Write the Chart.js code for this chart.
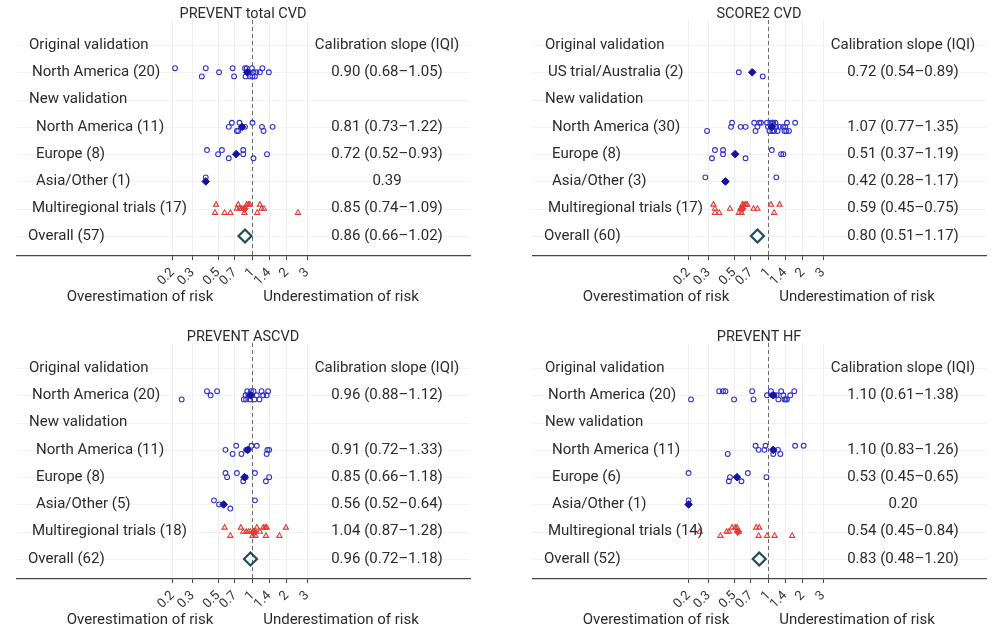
<!DOCTYPE html>
<html>
<head>
<meta charset="utf-8">
<script src="https://cdn.jsdelivr.net/npm/chart.js@4.4.1/dist/chart.umd.min.js"></script>
<style>
    html, body { margin: 0; padding: 0; background: #fff; }
    body { width: 1000px; height: 638px; position: relative; overflow: hidden; }
    .panel { position: absolute; width: 484px; height: 315px; }
</style>
</head>
<body>
<div class="panel" style="left: 0; top: 0;"><canvas id="p-cvd"></canvas></div>
<div class="panel" style="left: 516px; top: 0;"><canvas id="p-score2"></canvas></div>
<div class="panel" style="left: 0; top: 323px;"><canvas id="p-ascvd"></canvas></div>
<div class="panel" style="left: 516px; top: 323px;"><canvas id="p-hf"></canvas></div>
<script>
// x axis (log) ticks
const tickVals = [0.2, 0.3, 0.5, 0.7, 1, 1.4, 2, 3];
const tickLabels = ['0.2', '0.3', '0.5', '0.7', '1', '1.4', '2', '3'];

// ---- PREVENT total CVD ----
const cvdLabels = ['Original validation', 'North America (20)', 'New validation', 'North America (11)', 'Europe (8)', 'Asia/Other (1)', 'Multiregional trials (17)', 'Overall (57)'];
const cvdSlopes = ['Calibration slope (IQI)', '0.90 (0.68\u20131.05)', '', '0.81 (0.73\u20131.22)', '0.72 (0.52\u20130.93)', '0.39', '0.85 (0.74\u20131.09)', '0.86 (0.66\u20131.02)'];
const cvdNA20 = [0.21, 0.36, 0.39, 0.51, 0.67, 0.69, 0.86, 0.87, 0.89, 0.90, 0.92, 0.95, 0.99, 1.00, 1.02, 1.05, 1.08, 1.16, 1.22, 1.39];
const cvdNA20Jit = [-1, 1, -1, 0, -1, 1, -1, 1, -1, 0, 0, 1, -1, 1, 0, 1, 0, 0, -1, 0];
const cvdNA11 = [0.62, 0.66, 0.73, 0.75, 0.77, 0.81, 0.86, 1.00, 1.21, 1.25, 1.50];
const cvdNA11Jit = [0, -1, 1, 1, -1, 0, 0, -1, 0, 1, 0];
const cvdEur = [0.40, 0.50, 0.54, 0.62, 0.83, 0.83, 1.02, 1.34];
const cvdEurJit = [-1, 0, -1, 1, -1, 0, 1, 0];
const cvdAsia = [0.39];
const cvdAsiaJit = [-1];
const cvdMulti = [0.47, 0.48, 0.57, 0.64, 0.73, 0.75, 0.77, 0.80, 0.85, 0.89, 0.92, 0.95, 1.10, 1.16, 1.20, 1.26, 2.50];
const cvdMultiJit = [1, -1, 1, 1, 0, -1, 0, 0, 1, -1, -1, -1, 1, -1, 0, 0, 1];
const cvdMedians = [0.90, 0.81, 0.72, 0.39, 0.85];
const cvdOverall = 0.86;

// ---- SCORE2 CVD ----
const s2Labels = ['Original validation', 'US trial/Australia (2)', 'New validation', 'North America (30)', 'Europe (8)', 'Asia/Other (3)', 'Multiregional trials (17)', 'Overall (60)'];
const s2Slopes = ['Calibration slope (IQI)', '0.72 (0.54\u20130.89)', '', '1.07 (0.77\u20131.35)', '0.51 (0.37\u20131.19)', '0.42 (0.28\u20131.17)', '0.59 (0.45\u20130.75)', '0.80 (0.51\u20131.17)'];
const s2US = [0.55, 0.89];
const s2USJit = [0, 1];
const s2NA30 = [0.29, 0.47, 0.48, 0.57, 0.63, 0.75, 0.77, 0.80, 0.83, 0.86, 0.97, 0.99, 1.02, 1.04, 1.06, 1.08, 1.08, 1.10, 1.12, 1.15, 1.17, 1.20, 1.25, 1.34, 1.38, 1.40, 1.43, 1.45, 1.51, 1.71];
const s2NA30Jit = [1, 0, -1, 0, 0, -1, 1, 0, -1, -1, -1, 0, 1, -1, 0, -1, 1, -1, 1, -1, 0, 1, 0, 0, 1, 0, 1, -1, 1, -1];
const s2Eur = [0.32, 0.34, 0.40, 0.40, 0.63, 1.07, 1.29, 1.35];
const s2EurJit = [1, -1, -1, 0, 1, -1, 0, 0];
const s2Asia = [0.28, 0.42, 1.17];
const s2AsiaJit = [-1, 0, -1];
const s2Multi = [0.33, 0.34, 0.34, 0.37, 0.46, 0.55, 0.57, 0.58, 0.59, 0.61, 0.63, 0.65, 0.74, 0.80, 1.05, 1.12, 1.25];
const s2MultiJit = [-1, 0, 1, 1, 0, 1, 0, 1, -1, -1, -1, -1, 0, 0, -1, 1, -1];
const s2Medians = [0.72, 1.07, 0.51, 0.42, 0.59];
const s2Overall = 0.80;

// ---- PREVENT ASCVD ----
const ascLabels = ['Original validation', 'North America (20)', 'New validation', 'North America (11)', 'Europe (8)', 'Asia/Other (5)', 'Multiregional trials (18)', 'Overall (62)'];
const ascSlopes = ['Calibration slope (IQI)', '0.96 (0.88\u20131.12)', '', '0.91 (0.72\u20131.33)', '0.85 (0.66\u20131.18)', '0.56 (0.52\u20130.64)', '1.04 (0.87\u20131.28)', '0.96 (0.72\u20131.18)'];
const ascNA20 = [0.24, 0.40, 0.43, 0.49, 0.84, 0.87, 0.88, 0.90, 0.92, 0.95, 0.97, 0.99, 1.02, 1.04, 1.09, 1.15, 1.20, 1.24, 1.33, 1.37];
const ascNA20Jit = [1, -1, 0, -1, 1, 0, 1, -1, 0, 1, -1, 0, -1, 1, 0, 1, -1, 0, 0, -1];
const ascNA11 = [0.58, 0.67, 0.72, 0.80, 0.88, 0.91, 0.98, 1.09, 1.33, 1.35, 1.40];
const ascNA11Jit = [0, 1, -1, 1, 0, 0, -1, -1, 1, 0, 0];
const ascEur = [0.58, 0.60, 0.73, 0.83, 0.87, 1.05, 1.31, 1.40];
const ascEurJit = [-1, 0, -1, 1, 0, -1, 1, 0];
const ascAsia = [0.46, 0.51, 0.56, 0.64, 1.05];
const ascAsiaJit = [-1, 0, 0, 1, -1];
const ascMulti = [0.57, 0.64, 0.79, 0.83, 0.88, 0.92, 0.96, 1.00, 1.02, 1.06, 1.09, 1.16, 1.24, 1.29, 1.31, 1.33, 1.72, 1.96];
const ascMultiJit = [-1, 1, -1, 0, 0, 0, 0, 1, 0, 1, -1, 0, -1, -1, 1, -1, 1, -1];
const ascMedians = [0.96, 0.91, 0.85, 0.56, 1.04];
const ascOverall = 0.96;

// ---- PREVENT HF ----
const hfLabels = ['Original validation', 'North America (20)', 'New validation', 'North America (11)', 'Europe (6)', 'Asia/Other (1)', 'Multiregional trials (14)', 'Overall (52)'];
const hfSlopes = ['Calibration slope (IQI)', '1.10 (0.61\u20131.38)', '', '1.10 (0.83\u20131.26)', '0.53 (0.45\u20130.65)', '0.20', '0.54 (0.45\u20130.84)', '0.83 (0.48\u20131.20)'];
const hfNA20 = [0.21, 0.37, 0.40, 0.42, 0.50, 0.72, 0.74, 0.97, 1.05, 1.08, 1.12, 1.18, 1.22, 1.29, 1.35, 1.38, 1.41, 1.45, 1.55, 1.68];
const hfNA20Jit = [1, -1, -1, -1, 1, -1, 1, 0, -1, 0, 0, 0, 1, -1, 0, 1, 1, 1, 0, -1];
const hfNA11 = [0.44, 0.77, 0.82, 0.92, 0.94, 1.10, 1.10, 1.21, 1.27, 1.71, 2.03];
const hfNA11Jit = [1, -1, 0, 0, -1, 1, 0, 0, 1, -1, -1];
const hfEur = [0.20, 0.45, 0.46, 0.58, 0.66, 0.96];
const hfEurJit = [-1, 1, 0, 1, -1, 0];
const hfAsia = [0.20];
const hfAsiaJit = [-1];
const hfMulti = [0.25, 0.38, 0.43, 0.45, 0.48, 0.51, 0.53, 0.55, 0.78, 0.82, 0.83, 0.97, 1.13, 1.61];
const hfMultiJit = [0, 1, 0, 0, -1, -1, -1, 0, -1, 1, -1, 1, 1, 1];
const hfMedians = [1.10, 1.10, 0.53, 0.20, 0.54];
const hfOverall = 0.83;

// layout
const GROUP_ROWS = [1, 3, 4, 5, 6];
const OVERALL_ROW = 7;
const JIT = 0.15;
const LABEL_INDENT = [12, 15, 12, 19, 19, 19, 15, 11];
const FONT = 'Roboto, "Noto Sans", sans-serif';
const TEXT = '#2b2b2b';
const BLUE = '#3232cc';
const NAVY = '#1414a0';
const RED = '#e33b35';
const TEAL = '#1f4c5e';

const rowPoints = (vals, jit, row) => vals.map((v, i) => ({ x: v, y: row + jit[i] * JIT }));

const panelDecor = {
    id: 'panelDecor',
    beforeDatasetsDraw(chart) {
        const { ctx, chartArea: a, scales } = chart;
        ctx.save();
        ctx.strokeStyle = 'rgba(0,0,0,0.05)';
        ctx.lineWidth = 1;
        for (let r = 0; r <= OVERALL_ROW; r++) {
            const y = Math.round(scales.y.getPixelForValue(r)) + 0.5;
            ctx.beginPath(); ctx.moveTo(a.left, y); ctx.lineTo(a.right, y); ctx.stroke();
        }
        // reference line at slope 1
        const x1 = scales.x.getPixelForValue(1);
        ctx.strokeStyle = '#6b6b6b';
        ctx.setLineDash([4, 3]);
        ctx.beginPath(); ctx.moveTo(x1, a.top); ctx.lineTo(x1, a.bottom); ctx.stroke();
        ctx.restore();
    },
    afterDraw(chart, args, opts) {
        const { ctx, chartArea: a, scales } = chart;
        ctx.save();
        ctx.fillStyle = TEXT;
        ctx.textBaseline = 'middle';
        ctx.font = '14.5px ' + FONT;
        ctx.textAlign = 'center';
        ctx.fillText(opts.title, a.left + 226, 14);

        ctx.font = '15px ' + FONT;
        opts.labels.forEach((txt, r) => {
            const y = scales.y.getPixelForValue(r);
            ctx.textAlign = 'left';
            ctx.fillText(txt, a.left + LABEL_INDENT[r], y);
            ctx.textAlign = 'center';
            ctx.fillText(opts.slopes[r], a.left + 370, y);
        });
        ctx.textAlign = 'center';
        ctx.fillText('Overestimation of risk', a.left + 123, a.bottom + 41);
        ctx.fillText('Underestimation of risk', a.left + 324, a.bottom + 41);
        ctx.restore();
    }
};

const makePanel = (id, title, labels, slopes, groups, medians, overall) => {
    const circles = [];
    groups.slice(0, 4).forEach((g, i) => circles.push(...rowPoints(g[0], g[1], GROUP_ROWS[i])));
    const triangles = rowPoints(groups[4][0], groups[4][1], GROUP_ROWS[4]);

    new Chart(document.getElementById(id), {
        type: 'scatter',
        data: {
            datasets: [
                {
                    data: [{ x: overall, y: OVERALL_ROW }],
                    pointStyle: 'rectRot', pointRadius: 6.5,
                    borderColor: TEAL, borderWidth: 2.2, backgroundColor: 'rgba(255,255,255,0)'
                },
                {
                    data: medians.slice(0, 4).map((m, i) => ({ x: m, y: GROUP_ROWS[i] })),
                    pointStyle: 'rectRot', pointRadius: 3.8,
                    borderColor: NAVY, borderWidth: 1, backgroundColor: NAVY
                },
                {
                    data: [{ x: medians[4], y: GROUP_ROWS[4] }],
                    pointStyle: 'rectRot', pointRadius: 3.8,
                    borderColor: RED, borderWidth: 1, backgroundColor: RED
                },
                {
                    data: circles,
                    pointStyle: 'circle', pointRadius: 2.4,
                    borderColor: BLUE, borderWidth: 1.1, backgroundColor: 'rgba(255,255,255,0)'
                },
                {
                    data: triangles,
                    pointStyle: 'triangle', pointRadius: 3,
                    borderColor: RED, borderWidth: 1.1, backgroundColor: 'rgba(255,255,255,0)'
                }
            ]
        },
        options: {
            responsive: true,
            maintainAspectRatio: false,
            animation: false,
            layout: { padding: { top: 20, left: 17, right: 14, bottom: 0 } },
            plugins: {
                legend: { display: false },
                tooltip: { enabled: false },
                panelDecor: { title, labels, slopes }
            },
            scales: {
                x: {
                    type: 'logarithmic',
                    bounds: 'data',
                    min: 0.0087,
                    max: 80,
                    afterBuildTicks: (scale) => { scale.ticks = tickVals.map(v => ({ value: v })); },
                    afterFit: (scale) => { scale.height = 59; },
                    ticks: {
                        autoSkip: false,
                        minRotation: 45,
                        maxRotation: 45,
                        padding: 5,
                        color: '#333',
                        font: { family: FONT, size: 13 },
                        callback: (v) => tickLabels[tickVals.indexOf(v)]
                    },
                    grid: { color: 'rgba(0,0,0,0.06)', tickColor: '#444', tickLength: 4 },
                    border: { display: true, color: '#444', width: 1.3 }
                },
                y: {
                    type: 'linear',
                    display: false,
                    reverse: true,
                    min: -0.916,
                    max: 7.732
                }
            }
        },
        plugins: [panelDecor]
    });
};

makePanel('p-cvd', 'PREVENT total CVD', cvdLabels, cvdSlopes,
    [[cvdNA20, cvdNA20Jit], [cvdNA11, cvdNA11Jit], [cvdEur, cvdEurJit], [cvdAsia, cvdAsiaJit], [cvdMulti, cvdMultiJit]],
    cvdMedians, cvdOverall);
makePanel('p-score2', 'SCORE2 CVD', s2Labels, s2Slopes,
    [[s2US, s2USJit], [s2NA30, s2NA30Jit], [s2Eur, s2EurJit], [s2Asia, s2AsiaJit], [s2Multi, s2MultiJit]],
    s2Medians, s2Overall);
makePanel('p-ascvd', 'PREVENT ASCVD', ascLabels, ascSlopes,
    [[ascNA20, ascNA20Jit], [ascNA11, ascNA11Jit], [ascEur, ascEurJit], [ascAsia, ascAsiaJit], [ascMulti, ascMultiJit]],
    ascMedians, ascOverall);
makePanel('p-hf', 'PREVENT HF', hfLabels, hfSlopes,
    [[hfNA20, hfNA20Jit], [hfNA11, hfNA11Jit], [hfEur, hfEurJit], [hfAsia, hfAsiaJit], [hfMulti, hfMultiJit]],
    hfMedians, hfOverall);
</script>
</body>
</html>
